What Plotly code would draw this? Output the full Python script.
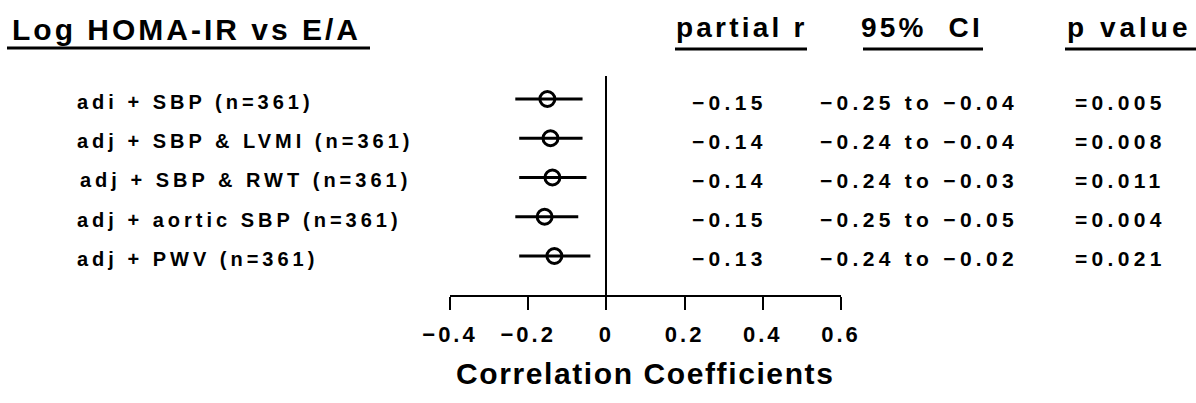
import plotly.graph_objects as go

# ---- data ----
labels = ["adi + SBP (n=361)", "adj + SBP & LVMI (n=361)", "adj + SBP & RWT (n=361)",
          "adj + aortic SBP (n=361)", "adj + PWV (n=361)"]
partial_r_text = ["−0.15", "−0.14", "−0.14", "−0.15", "−0.13"]
ci_text = ["−0.25 to −0.04", "−0.24 to −0.04", "−0.24 to −0.03", "−0.25 to −0.05", "−0.24 to −0.02"]
p_text = ["=0.005", "=0.008", "=0.011", "=0.004", "=0.021"]
marker_r = [-0.151, -0.143, -0.138, -0.158, -0.133]
whisker_lo = [-0.233, -0.223, -0.223, -0.233, -0.223]
whisker_hi = [-0.061, -0.061, -0.051, -0.072, -0.041]
rows = [1, 2, 3, 4, 5]
tick_vals = [-0.4, -0.2, 0, 0.2, 0.4, 0.6]
tick_text = ["−0.4", "−0.2", "0", "0.2", "0.4", "0.6"]

W, H = 1196, 403
FONT = "Liberation Sans"
WEIGHT = "bold"
NB = "\u00a0"


def ls(t, px):
    return f'<span style="letter-spacing:{px}px">{t}</span>'


def px_x(p):
    return p / W


def px_y(p):
    return 1 - p / H


fig = go.Figure()
fig.add_trace(go.Scatter(
    x=marker_r, y=rows, mode="markers",
    marker=dict(symbol="circle-open", size=15, color="black", line=dict(width=3, color="black")),
    error_x=dict(type="data", symmetric=False,
                 array=[h - m for h, m in zip(whisker_hi, marker_r)],
                 arrayminus=[m - l for m, l in zip(marker_r, whisker_lo)],
                 width=0, thickness=3, color="black"),
    showlegend=False, hoverinfo="skip",
))

annotations = []
row_shift = {3: 3}
for r, lab, pr, ci, pv in zip(rows, labels, partial_r_text, ci_text, p_text):
    common = dict(yref="y", y=r, xref="paper", yanchor="middle", xanchor="left",
                  showarrow=False, yshift=-3)
    lab_font = dict(family=FONT, size=20, color="black", weight=WEIGHT)
    num_font = dict(family=FONT, size=21, color="black", weight=WEIGHT)
    annotations.append(dict(text=ls(lab, 4.0), x=px_x(75 + row_shift.get(r, 0)), font=lab_font, **common))
    annotations.append(dict(text=ls(pr, 4.3), x=px_x(690), font=num_font, **common))
    annotations.append(dict(text=ls(ci, 4.3), x=px_x(818), font=num_font, **common))
    annotations.append(dict(text=ls(pv, 4.3), x=px_x(1073), font=num_font, **common))

hdr = dict(xref="paper", yref="paper", yanchor="middle", showarrow=False,
           font=dict(family=FONT, size=28, color="black", weight=WEIGHT))
annotations.append(dict(text=ls("Log HOMA-IR vs E/A", 3.0), x=px_x(10), y=px_y(29), xanchor="left",
                        xref="paper", yref="paper", yanchor="middle", showarrow=False,
                        font=dict(family=FONT, size=30, color="black", weight=WEIGHT)))
annotations.append(dict(text=ls("partial r", 3.2), x=px_x(742), y=px_y(28), xanchor="center", **hdr))
annotations.append(dict(text=ls("95%" + NB + NB + "CI", 3.2), x=px_x(922), y=px_y(28), xanchor="center", **hdr))
annotations.append(dict(text=ls("p" + NB + "value", 4.0), x=px_x(1129), y=px_y(28), xanchor="center", **hdr))
annotations.append(dict(text=ls("Correlation Coefficients", 1.6), x=px_x(645), y=px_y(373),
                        xref="paper", yref="paper", xanchor="center", yanchor="middle", showarrow=False,
                        font=dict(family=FONT, size=30, color="black", weight=WEIGHT)))

shapes = []
for x0, x1, yy in [(7, 370, 48), (675, 807, 49), (863, 983, 49), (1065, 1196, 49)]:
    shapes.append(dict(type="line", xref="paper", yref="paper",
                       x0=px_x(x0), x1=px_x(x1), y0=px_y(yy), y1=px_y(yy),
                       line=dict(color="black", width=3)))

fig.update_layout(
    width=W, height=H, margin=dict(l=0, r=0, t=0, b=0, autoexpand=False),
    paper_bgcolor="white", plot_bgcolor="white",
    annotations=annotations, shapes=shapes,
    xaxis=dict(domain=[450 / W, 841 / W], range=[-0.4, 0.6], automargin=False,
               tickvals=tick_vals, ticktext=[ls(t, 3) for t in tick_text],
               ticks="outside", ticklen=13, tickwidth=2, tickcolor="black",
               showline=True, linewidth=2, linecolor="black",
               showgrid=False, zeroline=True, zerolinecolor="black", zerolinewidth=2,
               tickfont=dict(family=FONT, size=22, color="black", weight=WEIGHT), ticklabelstandoff=6,
               fixedrange=True),
    yaxis=dict(domain=[1 - 295 / H, 1 - 76 / H], range=[5.994, 0.414], automargin=False,
               showticklabels=False, showline=False, showgrid=False, zeroline=False,
               ticks="", fixedrange=True),
)

fig.write_html("out.html")
